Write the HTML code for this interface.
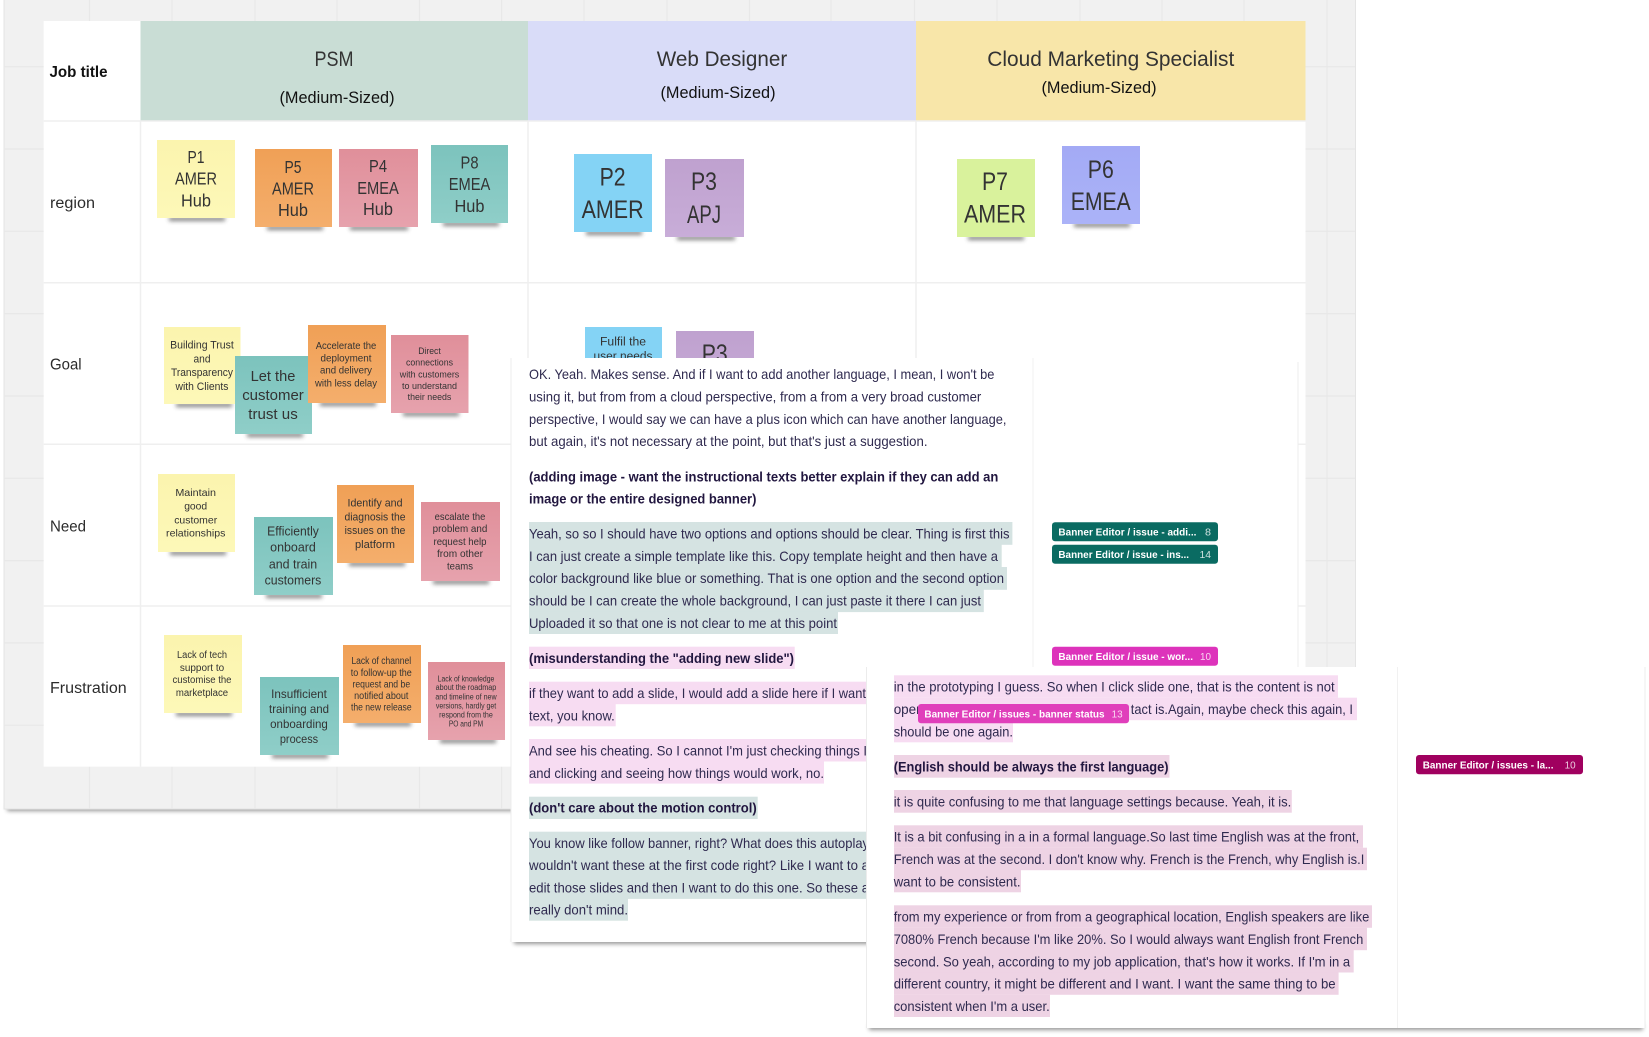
<!DOCTYPE html>
<html><head><meta charset="utf-8"><style>
html,body{margin:0;padding:0;background:#fff;width:1649px;height:1037px;overflow:hidden}
svg{display:block;filter:blur(.35px)}
.s{font-family:"Liberation Sans",sans-serif;fill:#333;text-anchor:middle}
.l{font-family:"Liberation Sans",sans-serif;fill:#2c2c2c}
.p{font-family:"Liberation Sans",sans-serif;font-size:13.6px;fill:#2f2a4f}
.b{font-family:"Liberation Sans",sans-serif;font-size:13.6px;font-weight:bold;fill:#21163f}
.t{font-family:"Liberation Sans",sans-serif;font-size:10.5px;font-weight:bold;fill:#fff}
.c{font-family:"Liberation Sans",sans-serif;font-size:10.5px;fill:#fff;opacity:.8}
</style></head><body>
<svg width="1649" height="1037" viewBox="0 0 1649 1037" xmlns="http://www.w3.org/2000/svg">
<defs>
<filter id="sb" x="-20%" y="-300%" width="140%" height="700%"><feGaussianBlur stdDeviation="2"/></filter>
<filter id="sd" x="-5%" y="-300%" width="110%" height="700%"><feGaussianBlur stdDeviation="2.2"/></filter>
<linearGradient id="gy" x1="0" y1="0" x2="0" y2="1"><stop offset="0" stop-color="#fbf4ae"/><stop offset="1" stop-color="#fdf8b8"/></linearGradient>
<linearGradient id="go" x1="0" y1="0" x2="0" y2="1"><stop offset="0" stop-color="#f0a056"/><stop offset="1" stop-color="#f4ae6c"/></linearGradient>
<linearGradient id="gp" x1="0" y1="0" x2="0" y2="1"><stop offset="0" stop-color="#e08f9a"/><stop offset="1" stop-color="#e6a2ad"/></linearGradient>
<linearGradient id="gt" x1="0" y1="0" x2="0" y2="1"><stop offset="0" stop-color="#7cc3bd"/><stop offset="1" stop-color="#8fcec8"/></linearGradient>
<linearGradient id="gu" x1="0" y1="0" x2="0" y2="1"><stop offset="0" stop-color="#bfa1cf"/><stop offset="1" stop-color="#c8add8"/></linearGradient>
<linearGradient id="gv" x1="0" y1="0" x2="0" y2="1"><stop offset="0" stop-color="#a3aaf5"/><stop offset="1" stop-color="#abb3f8"/></linearGradient>
</defs>

<!-- board -->
<rect x="7" y="805" width="1346" height="6" fill="#000" opacity=".42" filter="url(#sd)"/>
<rect x="4" y="-10" width="1351.5" height="819" fill="#f1f1f1" stroke="#e4e4e4" stroke-width="1"/>
<g stroke="#e8e8e8" stroke-width="1.2">
<path d="M4 66.7H1355M4 149H1355M4 231.3H1355M4 313.6H1355M4 396H1355M4 478.3H1355M4 560.6H1355M4 642.9H1355M4 725.2H1355"/>
<path d="M89.5 0V809M172 0V809M255 0V809M337 0V809M419.5 0V809M501.6 0V809M584 0V809M667 0V809M749.5 0V809M831 0V809M914.5 0V809M997 0V809M1080 0V809M1162 0V809M1244 0V809M1327 0V809"/>
</g>

<!-- table -->
<rect x="43.7" y="21" width="1261.8" height="745.7" fill="#fff"/>
<rect x="140.5" y="21" width="387.5" height="99.7" fill="#c9ddd5"/>
<rect x="528" y="21" width="388" height="99.7" fill="#d9dcf8"/>
<rect x="916" y="21" width="389.5" height="99.7" fill="#f8e6a9"/>
<g stroke="#efefef" stroke-width="1.5">
<path d="M43.7 121H1305.5M43.7 282.7H1305.5M43.7 444.3H1305.5M43.7 606H1305.5"/>
<path d="M140.5 121V766.7M528 121V766.7M916 121V766.7"/>
</g>
<text class="s" x="334" y="66" font-size="21" textLength="39" lengthAdjust="spacingAndGlyphs">PSM</text>
<text class="s" x="337" y="103" font-size="16.5" textLength="115" lengthAdjust="spacingAndGlyphs" style="fill:#111">(Medium-Sized)</text>
<text class="s" x="722" y="66" font-size="21" textLength="130.5" lengthAdjust="spacingAndGlyphs">Web Designer</text>
<text class="s" x="718" y="98" font-size="16.5" textLength="115" lengthAdjust="spacingAndGlyphs" style="fill:#111">(Medium-Sized)</text>
<text class="s" x="1110.8" y="66" font-size="21" textLength="247" lengthAdjust="spacingAndGlyphs">Cloud Marketing Specialist</text>
<text class="s" x="1099" y="93" font-size="16.5" textLength="115" lengthAdjust="spacingAndGlyphs" style="fill:#111">(Medium-Sized)</text>
<text class="l" x="49.5" y="77" font-size="15.5" font-weight="bold" textLength="58" lengthAdjust="spacingAndGlyphs" style="fill:#111">Job title</text>
<text class="l" x="50" y="208" font-size="15.5" textLength="45" lengthAdjust="spacingAndGlyphs">region</text>
<text class="l" x="50" y="369.5" font-size="15.5" textLength="31.6" lengthAdjust="spacingAndGlyphs">Goal</text>
<text class="l" x="50" y="531.5" font-size="15.5" textLength="36" lengthAdjust="spacingAndGlyphs">Need</text>
<text class="l" x="50" y="693" font-size="15.5" textLength="76.7" lengthAdjust="spacingAndGlyphs">Frustration</text>

<!-- sticky shadows -->
<g fill="#333" opacity=".62" filter="url(#sb)">
<rect x="169" y="217" width="56" height="4"/><rect x="267" y="226" width="56" height="4"/><rect x="350" y="226" width="58" height="4"/><rect x="443" y="222" width="56" height="4"/>
<rect x="586" y="231" width="56" height="4"/><rect x="677" y="236" width="58" height="4"/><rect x="968" y="236" width="56" height="4"/><rect x="1074" y="223" width="56" height="4"/>
<rect x="176" y="403" width="56" height="4"/><rect x="247" y="433" width="56" height="4"/><rect x="320" y="402" width="56" height="4"/><rect x="403" y="412" width="56" height="4"/>
<rect x="170" y="551" width="56" height="4"/><rect x="266" y="594" width="56" height="4"/><rect x="349" y="562" width="56" height="4"/><rect x="433" y="580" width="56" height="4"/>
<rect x="176" y="712" width="56" height="4"/><rect x="272" y="754" width="56" height="4"/><rect x="355" y="722" width="56" height="4"/><rect x="440" y="739" width="56" height="4"/>
</g>

<!-- region row -->
<rect x="157" y="140" width="78" height="78" fill="url(#gy)"/>
<rect x="255" y="149" width="77" height="78" fill="url(#go)"/>
<rect x="339" y="149" width="79" height="78" fill="url(#gp)"/>
<rect x="431" y="145" width="77" height="78" fill="url(#gt)"/>
<rect x="574" y="154" width="78" height="78" fill="#84d3f5"/>
<rect x="665" y="159" width="79" height="78" fill="url(#gu)"/>
<rect x="957" y="159" width="78" height="78" fill="#d9f29c"/>
<rect x="1062" y="146" width="78" height="78" fill="url(#gv)"/>
<text class="s" x="196" y="163" font-size="17.5" textLength="17" lengthAdjust="spacingAndGlyphs">P1</text>
<text class="s" x="196" y="184.5" font-size="17.5" textLength="42" lengthAdjust="spacingAndGlyphs">AMER</text>
<text class="s" x="196" y="206.5" font-size="17.5" textLength="30" lengthAdjust="spacingAndGlyphs">Hub</text>
<text class="s" x="293" y="173" font-size="17.5" textLength="17" lengthAdjust="spacingAndGlyphs">P5</text>
<text class="s" x="293" y="194.5" font-size="17.5" textLength="42" lengthAdjust="spacingAndGlyphs">AMER</text>
<text class="s" x="293" y="216" font-size="17.5" textLength="30" lengthAdjust="spacingAndGlyphs">Hub</text>
<text class="s" x="378" y="172" font-size="17.5" textLength="18" lengthAdjust="spacingAndGlyphs">P4</text>
<text class="s" x="378" y="194" font-size="17.5" textLength="41.6" lengthAdjust="spacingAndGlyphs">EMEA</text>
<text class="s" x="378" y="215" font-size="17.5" textLength="30" lengthAdjust="spacingAndGlyphs">Hub</text>
<text class="s" x="469.5" y="168.5" font-size="17.5" textLength="18" lengthAdjust="spacingAndGlyphs">P8</text>
<text class="s" x="469.5" y="190" font-size="17.5" textLength="41.6" lengthAdjust="spacingAndGlyphs">EMEA</text>
<text class="s" x="469.5" y="212" font-size="17.5" textLength="30" lengthAdjust="spacingAndGlyphs">Hub</text>
<text class="s" x="612.6" y="185.5" font-size="25" textLength="26" lengthAdjust="spacingAndGlyphs">P2</text>
<text class="s" x="612.6" y="218" font-size="25" textLength="62" lengthAdjust="spacingAndGlyphs">AMER</text>
<text class="s" x="704" y="190" font-size="25" textLength="26" lengthAdjust="spacingAndGlyphs">P3</text>
<text class="s" x="704" y="223" font-size="25" textLength="34" lengthAdjust="spacingAndGlyphs">APJ</text>
<text class="s" x="995" y="190" font-size="25" textLength="26" lengthAdjust="spacingAndGlyphs">P7</text>
<text class="s" x="995" y="222.5" font-size="25" textLength="62" lengthAdjust="spacingAndGlyphs">AMER</text>
<text class="s" x="1100.8" y="178" font-size="25" textLength="26" lengthAdjust="spacingAndGlyphs">P6</text>
<text class="s" x="1100.8" y="210" font-size="25" textLength="60" lengthAdjust="spacingAndGlyphs">EMEA</text>

<!-- goal row -->
<rect x="164" y="327" width="76.5" height="77" fill="url(#gy)"/>
<rect x="235" y="356" width="77" height="78" fill="url(#gt)"/>
<rect x="308" y="325" width="78" height="78" fill="url(#go)"/>
<rect x="391" y="335" width="77.5" height="78" fill="url(#gp)"/>
<rect x="585" y="327" width="77" height="78" fill="#84d3f5"/>
<rect x="676" y="331" width="78" height="78" fill="url(#gu)"/>
<text class="s" x="202" y="348.7" font-size="11" textLength="63.7" lengthAdjust="spacingAndGlyphs">Building Trust</text>
<text class="s" x="202" y="362.3" font-size="11" textLength="17" lengthAdjust="spacingAndGlyphs">and</text>
<text class="s" x="202" y="376" font-size="11" textLength="62" lengthAdjust="spacingAndGlyphs">Transparency</text>
<text class="s" x="202" y="390" font-size="11" textLength="53" lengthAdjust="spacingAndGlyphs">with Clients</text>
<text class="s" x="273" y="381" font-size="15" textLength="44.7" lengthAdjust="spacingAndGlyphs">Let the</text>
<text class="s" x="273" y="400" font-size="15" textLength="61.6" lengthAdjust="spacingAndGlyphs">customer</text>
<text class="s" x="273" y="419" font-size="15" textLength="49.5" lengthAdjust="spacingAndGlyphs">trust us</text>
<text class="s" x="346" y="349" font-size="10" textLength="60.5" lengthAdjust="spacingAndGlyphs">Accelerate the</text>
<text class="s" x="346" y="361.3" font-size="10" textLength="51" lengthAdjust="spacingAndGlyphs">deployment</text>
<text class="s" x="346" y="373.7" font-size="10" textLength="52" lengthAdjust="spacingAndGlyphs">and delivery</text>
<text class="s" x="346" y="386.3" font-size="10" textLength="62" lengthAdjust="spacingAndGlyphs">with less delay</text>
<text class="s" x="429.5" y="354" font-size="9.3" textLength="22.6" lengthAdjust="spacingAndGlyphs">Direct</text>
<text class="s" x="429.5" y="365.5" font-size="9.3" textLength="47" lengthAdjust="spacingAndGlyphs">connections</text>
<text class="s" x="429.5" y="377.5" font-size="9.3" textLength="59.5" lengthAdjust="spacingAndGlyphs">with customers</text>
<text class="s" x="429.5" y="389" font-size="9.3" textLength="55" lengthAdjust="spacingAndGlyphs">to understand</text>
<text class="s" x="429.5" y="400.2" font-size="9.3" textLength="43.7" lengthAdjust="spacingAndGlyphs">their needs</text>
<text class="s" x="623" y="345.5" font-size="11.5" textLength="46" lengthAdjust="spacingAndGlyphs">Fulfil the</text>
<text class="s" x="623" y="360" font-size="11.5" textLength="59" lengthAdjust="spacingAndGlyphs">user needs</text>
<text class="s" x="714.7" y="362" font-size="25" textLength="26" lengthAdjust="spacingAndGlyphs">P3</text>

<!-- need row -->
<rect x="158" y="474" width="77" height="78" fill="url(#gy)"/>
<rect x="254" y="517" width="79" height="78" fill="url(#gt)"/>
<rect x="337" y="485" width="77" height="78" fill="url(#go)"/>
<rect x="421" y="502" width="79" height="79" fill="url(#gp)"/>
<text class="s" x="195.7" y="496" font-size="10.5" textLength="40.7" lengthAdjust="spacingAndGlyphs">Maintain</text>
<text class="s" x="195.7" y="509.7" font-size="10.5" textLength="23" lengthAdjust="spacingAndGlyphs">good</text>
<text class="s" x="195.7" y="523.3" font-size="10.5" textLength="43" lengthAdjust="spacingAndGlyphs">customer</text>
<text class="s" x="195.7" y="536.7" font-size="10.5" textLength="59.3" lengthAdjust="spacingAndGlyphs">relationships</text>
<text class="s" x="293" y="535.5" font-size="13" textLength="51.7" lengthAdjust="spacingAndGlyphs">Efficiently</text>
<text class="s" x="293" y="551.7" font-size="13" textLength="45.7" lengthAdjust="spacingAndGlyphs">onboard</text>
<text class="s" x="293" y="568.4" font-size="13" textLength="48.3" lengthAdjust="spacingAndGlyphs">and train</text>
<text class="s" x="293" y="584.4" font-size="13" textLength="56.7" lengthAdjust="spacingAndGlyphs">customers</text>
<text class="s" x="375" y="506.7" font-size="11" textLength="55" lengthAdjust="spacingAndGlyphs">Identify and</text>
<text class="s" x="375" y="520.3" font-size="11" textLength="61" lengthAdjust="spacingAndGlyphs">diagnosis the</text>
<text class="s" x="375" y="534" font-size="11" textLength="60.7" lengthAdjust="spacingAndGlyphs">issues on the</text>
<text class="s" x="375" y="548" font-size="11" textLength="40" lengthAdjust="spacingAndGlyphs">platform</text>
<text class="s" x="460" y="520" font-size="10.5" textLength="50.7" lengthAdjust="spacingAndGlyphs">escalate the</text>
<text class="s" x="460" y="532" font-size="10.5" textLength="54.7" lengthAdjust="spacingAndGlyphs">problem and</text>
<text class="s" x="460" y="545" font-size="10.5" textLength="53" lengthAdjust="spacingAndGlyphs">request help</text>
<text class="s" x="460" y="557" font-size="10.5" textLength="46" lengthAdjust="spacingAndGlyphs">from other</text>
<text class="s" x="460" y="569.3" font-size="10.5" textLength="26" lengthAdjust="spacingAndGlyphs">teams</text>

<!-- frustration row -->
<rect x="164" y="635" width="78" height="78" fill="url(#gy)"/>
<rect x="260" y="677" width="79" height="78" fill="url(#gt)"/>
<rect x="343" y="645" width="78" height="78" fill="url(#go)"/>
<rect x="428" y="662" width="77" height="78" fill="url(#gp)"/>
<text class="s" x="202" y="658" font-size="10" textLength="50" lengthAdjust="spacingAndGlyphs">Lack of tech</text>
<text class="s" x="202" y="671" font-size="10" textLength="44.3" lengthAdjust="spacingAndGlyphs">support to</text>
<text class="s" x="202" y="683" font-size="10" textLength="59" lengthAdjust="spacingAndGlyphs">customise the</text>
<text class="s" x="202" y="696" font-size="10" textLength="52.3" lengthAdjust="spacingAndGlyphs">marketplace</text>
<text class="s" x="299" y="697.8" font-size="12" textLength="55.7" lengthAdjust="spacingAndGlyphs">Insufficient</text>
<text class="s" x="299" y="712.8" font-size="12" textLength="60" lengthAdjust="spacingAndGlyphs">training and</text>
<text class="s" x="299" y="727.8" font-size="12" textLength="57.7" lengthAdjust="spacingAndGlyphs">onboarding</text>
<text class="s" x="299" y="743.2" font-size="12" textLength="38.3" lengthAdjust="spacingAndGlyphs">process</text>
<text class="s" x="381.3" y="663.8" font-size="10" textLength="59.7" lengthAdjust="spacingAndGlyphs">Lack of channel</text>
<text class="s" x="381.3" y="675.8" font-size="10" textLength="61" lengthAdjust="spacingAndGlyphs">to follow-up the</text>
<text class="s" x="381.3" y="687.5" font-size="10" textLength="57.7" lengthAdjust="spacingAndGlyphs">request and be</text>
<text class="s" x="381.3" y="698.8" font-size="10" textLength="54.3" lengthAdjust="spacingAndGlyphs">notified about</text>
<text class="s" x="381.3" y="710.5" font-size="10" textLength="60.7" lengthAdjust="spacingAndGlyphs">the new release</text>
<text class="s" x="466" y="681.3" font-size="8" textLength="56.7" lengthAdjust="spacingAndGlyphs">Lack of knowledge</text>
<text class="s" x="466" y="690" font-size="8" textLength="60.7" lengthAdjust="spacingAndGlyphs">about the roadmap</text>
<text class="s" x="466" y="699.3" font-size="8" textLength="61.3" lengthAdjust="spacingAndGlyphs">and timeline of new</text>
<text class="s" x="466" y="708.7" font-size="8" textLength="60.3" lengthAdjust="spacingAndGlyphs">versions, hardly get</text>
<text class="s" x="466" y="717.3" font-size="8" textLength="53.7" lengthAdjust="spacingAndGlyphs">respond from the</text>
<text class="s" x="466" y="726.3" font-size="8" textLength="34.3" lengthAdjust="spacingAndGlyphs">PO and PM</text>

<!-- panel 1 -->
<rect x="514" y="938" width="781" height="6" fill="#000" opacity=".42" filter="url(#sd)"/>
<rect x="511" y="358" width="787" height="584" fill="#fff"/>
<path d="M511 358V942M1298 362V942" stroke="#ececec" stroke-width="1"/>
<path d="M1033 358V667" stroke="#f1f1f1" stroke-width="1"/>
<g fill="#d5e3e2">
<rect x="529" y="522" width="483.4" height="22.8"/><rect x="529" y="544.5" width="472.7" height="22.8"/><rect x="529" y="567" width="478" height="22.8"/><rect x="529" y="589.3" width="454.8" height="22.8"/><rect x="529" y="611.7" width="309" height="22.3"/>
<rect x="529" y="796.7" width="228.7" height="22.3"/>
<rect x="529" y="831.7" width="340" height="67.2"/><rect x="529" y="898.5" width="99" height="22.2"/>
</g>
<g fill="#f7dcf2">
<rect x="529" y="646.7" width="265.7" height="22.3"/>
<rect x="529" y="681.7" width="340" height="22.5"/><rect x="529" y="704" width="86.7" height="22.3"/>
<rect x="529" y="739" width="340" height="22.5"/><rect x="529" y="761.3" width="295" height="22.3"/>
</g>
<text class="p" x="529" y="379" textLength="465.4" lengthAdjust="spacingAndGlyphs">OK. Yeah. Makes sense. And if I want to add another language, I mean, I won't be</text>
<text class="p" x="529" y="401.5" textLength="452.3" lengthAdjust="spacingAndGlyphs">using it, but from from a cloud perspective, from a from a very broad customer</text>
<text class="p" x="529" y="424" textLength="477.5" lengthAdjust="spacingAndGlyphs">perspective, I would say we can have a plus icon which can have another language,</text>
<text class="p" x="529" y="446" textLength="398.5" lengthAdjust="spacingAndGlyphs">but again, it's not necessary at the point, but that's just a suggestion.</text>
<text class="b" x="529" y="481.5" textLength="469.3" lengthAdjust="spacingAndGlyphs">(adding image - want the instructional texts better explain if they can add an</text>
<text class="b" x="529" y="503.5" textLength="227.4" lengthAdjust="spacingAndGlyphs">image or the entire designed banner)</text>
<text class="p" x="529" y="538.5" textLength="480.5" lengthAdjust="spacingAndGlyphs">Yeah, so so I should have two options and options should be clear. Thing is first this</text>
<text class="p" x="529" y="561" textLength="469" lengthAdjust="spacingAndGlyphs">I can just create a simple template like this. Copy template height and then have a</text>
<text class="p" x="529" y="583" textLength="475" lengthAdjust="spacingAndGlyphs">color background like blue or something. That is one option and the second option</text>
<text class="p" x="529" y="605.5" textLength="452" lengthAdjust="spacingAndGlyphs">should be I can create the whole background, I can just paste it there I can just</text>
<text class="p" x="529" y="628" textLength="308" lengthAdjust="spacingAndGlyphs">Uploaded it so that one is not clear to me at this point</text>
<text class="b" x="529" y="663" textLength="265" lengthAdjust="spacingAndGlyphs">(misunderstanding the "adding new slide")</text>
<text class="p" x="529" y="698" textLength="337" lengthAdjust="spacingAndGlyphs">if they want to add a slide, I would add a slide here if I want</text>
<text class="p" x="529" y="720.5" textLength="85.7" lengthAdjust="spacingAndGlyphs">text, you know.</text>
<text class="p" x="529" y="755.5" textLength="338" lengthAdjust="spacingAndGlyphs">And see his cheating. So I cannot I'm just checking things I</text>
<text class="p" x="529" y="778" textLength="295" lengthAdjust="spacingAndGlyphs">and clicking and seeing how things would work, no.</text>
<text class="b" x="529" y="812.5" textLength="227.7" lengthAdjust="spacingAndGlyphs">(don't care about the motion control)</text>
<text class="p" x="529" y="848" textLength="340" lengthAdjust="spacingAndGlyphs">You know like follow banner, right? What does this autoplay</text>
<text class="p" x="529" y="870" textLength="340" lengthAdjust="spacingAndGlyphs">wouldn't want these at the first code right? Like I want to a</text>
<text class="p" x="529" y="892.5" textLength="340" lengthAdjust="spacingAndGlyphs">edit those slides and then I want to do this one. So these a</text>
<text class="p" x="529" y="914.5" textLength="99" lengthAdjust="spacingAndGlyphs">really don't mind.</text>
<rect x="1052" y="522.3" width="166" height="19" rx="3" fill="#0a6b62"/>
<rect x="1052" y="544.7" width="166" height="19" rx="3" fill="#0a6b62"/>
<rect x="1052" y="646.7" width="166" height="19" rx="3" fill="#dd33bb"/>
<text class="t" x="1058.4" y="535.5" textLength="138" lengthAdjust="spacingAndGlyphs">Banner Editor / issue - addi...</text>
<text class="c" x="1205" y="535.5" textLength="6" lengthAdjust="spacingAndGlyphs">8</text>
<text class="t" x="1058.4" y="558" textLength="130.6" lengthAdjust="spacingAndGlyphs">Banner Editor / issue - ins...</text>
<text class="c" x="1199.5" y="558" textLength="11.5" lengthAdjust="spacingAndGlyphs">14</text>
<text class="t" x="1058.4" y="660" textLength="134.6" lengthAdjust="spacingAndGlyphs">Banner Editor / issue - wor...</text>
<text class="c" x="1200" y="660" textLength="11" lengthAdjust="spacingAndGlyphs">10</text>

<!-- panel 2 -->
<rect x="869" y="1024" width="774" height="6" fill="#000" opacity=".42" filter="url(#sd)"/>
<rect x="866.5" y="667" width="778.5" height="361" fill="#fff"/>
<path d="M866.5 667V1028M1645 667V1028" stroke="#ececec" stroke-width="1"/>
<path d="M1397.5 667V1028" stroke="#f1f1f1" stroke-width="1"/>
<g fill="#f7dcf2">
<rect x="894" y="675.3" width="444" height="22.5"/><rect x="894" y="697.7" width="463" height="22.5"/><rect x="894" y="720" width="119" height="22.3"/>
</g>
<g fill="#eed3e4">
<rect x="894" y="755" width="275.5" height="22.7"/>
<rect x="894" y="790" width="397.8" height="22.7"/>
<rect x="894" y="825.3" width="469" height="22.5"/><rect x="894" y="847.7" width="473" height="22.5"/><rect x="894" y="870" width="127" height="22.3"/>
<rect x="894" y="905.3" width="478" height="22.5"/><rect x="894" y="927.7" width="473" height="22.5"/><rect x="894" y="950" width="459.7" height="22.5"/><rect x="894" y="972.3" width="444.6" height="22.5"/><rect x="894" y="994.7" width="156" height="22.3"/>
</g>
<text class="p" x="893.7" y="691.7" textLength="441" lengthAdjust="spacingAndGlyphs">in the prototyping I guess. So when I click slide one, that is the content is not</text>
<text class="p" x="893.7" y="714" textLength="30" lengthAdjust="spacingAndGlyphs">open</text>
<text class="p" x="1130.8" y="714" textLength="222.2" lengthAdjust="spacingAndGlyphs">tact is.Again, maybe check this again, I</text>
<text class="p" x="893.7" y="736.3" textLength="119.3" lengthAdjust="spacingAndGlyphs">should be one again.</text>
<text class="b" x="893.7" y="771.7" textLength="274.8" lengthAdjust="spacingAndGlyphs">(English should be always the first language)</text>
<text class="p" x="893.7" y="806.7" textLength="397.6" lengthAdjust="spacingAndGlyphs">it is quite confusing to me that language settings because. Yeah, it is.</text>
<text class="p" x="893.7" y="841.7" textLength="465.5" lengthAdjust="spacingAndGlyphs">It is a bit confusing in a in a formal language.So last time English was at the front,</text>
<text class="p" x="893.7" y="864" textLength="470.6" lengthAdjust="spacingAndGlyphs">French was at the second. I don't know why. French is the French, why English is.I</text>
<text class="p" x="893.7" y="886.3" textLength="126.8" lengthAdjust="spacingAndGlyphs">want to be consistent.</text>
<text class="p" x="893.7" y="921.7" textLength="475.6" lengthAdjust="spacingAndGlyphs">from my experience or from from a geographical location, English speakers are like</text>
<text class="p" x="893.7" y="944" textLength="469.6" lengthAdjust="spacingAndGlyphs">7080% French because I'm like 20%. So I would always want English front French</text>
<text class="p" x="893.7" y="966.3" textLength="456.5" lengthAdjust="spacingAndGlyphs">second. So yeah, according to my job application, that's how it works. If I'm in a</text>
<text class="p" x="893.7" y="988.7" textLength="441.9" lengthAdjust="spacingAndGlyphs">different country, it might be different and I want. I want the same thing to be</text>
<text class="p" x="893.7" y="1011" textLength="156" lengthAdjust="spacingAndGlyphs">consistent when I'm a user.</text>
<rect x="918" y="704" width="211" height="19.3" rx="3" fill="#e03fbb"/>
<text class="t" x="924.4" y="717.5" textLength="180.2" lengthAdjust="spacingAndGlyphs">Banner Editor / issues - banner status</text>
<text class="c" x="1111.6" y="717.5" textLength="11" lengthAdjust="spacingAndGlyphs">13</text>
<rect x="1416" y="755" width="167" height="19.3" rx="3" fill="#a0005f"/>
<text class="t" x="1422.7" y="768.5" textLength="130.8" lengthAdjust="spacingAndGlyphs">Banner Editor / issues - la...</text>
<text class="c" x="1564.6" y="768.5" textLength="11" lengthAdjust="spacingAndGlyphs">10</text>
</svg>
</body></html>
